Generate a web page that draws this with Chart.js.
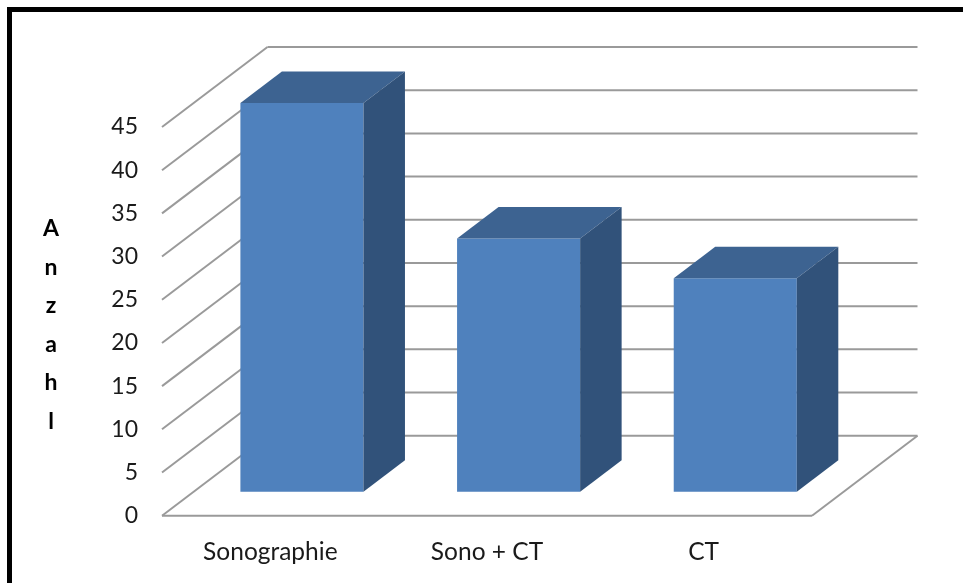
<!DOCTYPE html>
<html>
<head>
<meta charset="utf-8">
<title>Anzahl</title>
<script src="https://cdn.jsdelivr.net/npm/chart.js@4"></script>
<style>
  body { margin: 0; background: #fff; overflow: hidden; }
  #frame { position: absolute; left: 7px; top: 7px; right: 0; bottom: 0; border-left: 5px solid #000; border-top: 5px solid #000; }
  #anzahl { position: absolute; left: 0; top: 0; }
</style>
</head>
<body>
<div id="frame"></div>
<canvas id="anzahl" width="963" height="583"></canvas>
<script>
const categories = ["Sonographie", "Sono + CT", "CT"];
const counts = [45, 29.3, 24.7];
const tickValues = [0, 5, 10, 15, 20, 25, 30, 35, 40, 45];
const axisLetters = ["A", "n", "z", "a", "h", "l"];

// oblique offsets of the fake 3d box
const wallDepth = { x: 105.5, y: -80 };
const barDepth = { x: 41.5, y: -31.5 };
const barShift = { x: 31.6, y: -24 };

const gridColor = "#9a9a9a";
const frontColor = "#4f81bd";
const topColor = "#3d6391";
const sideColor = "#31527a";
const fontName = "Lato, sans-serif";

function poly(ctx, color, pts) {
  ctx.fillStyle = color;
  ctx.beginPath();
  pts.forEach((p, i) => (i ? ctx.lineTo(p[0], p[1]) : ctx.moveTo(p[0], p[1])));
  ctx.closePath();
  ctx.fill();
}

function seg(ctx, x1, y1, x2, y2) {
  ctx.beginPath();
  ctx.moveTo(x1, y1);
  ctx.lineTo(x2, y2);
  ctx.stroke();
}

// floor, side wall and back wall, placed with the y scale
const wallsPlugin = {
  id: "walls",
  beforeDatasetsDraw(chart) {
    const { ctx, chartArea: a, scales } = chart;
    const bx = wallDepth.x, by = wallDepth.y;
    ctx.save();
    ctx.strokeStyle = gridColor;
    ctx.lineWidth = 2;
    tickValues.forEach((v) => {
      const y = scales.y.getPixelForValue(v);
      seg(ctx, a.left, y, a.left + bx, y + by);
      seg(ctx, a.left + bx, y + by, a.right + bx, y + by);
    });
    seg(ctx, a.left, a.bottom, a.right, a.bottom);
    seg(ctx, a.right, a.bottom, a.right + bx, a.bottom + by);
    ctx.restore();
  },
  beforeDatasetDraw(chart) {
    chart.ctx.save();
    chart.ctx.translate(barShift.x, barShift.y);
  },
  afterDatasetDraw(chart, args) {
    const ctx = chart.ctx;
    const dx = barDepth.x, dy = barDepth.y;
    args.meta.data.forEach((bar) => {
      const l = bar.x - bar.width / 2, r = bar.x + bar.width / 2;
      poly(ctx, topColor, [[l, bar.y], [l + dx, bar.y + dy], [r + dx, bar.y + dy], [r, bar.y]]);
      poly(ctx, sideColor, [[r, bar.y], [r + dx, bar.y + dy], [r + dx, bar.base + dy], [r, bar.base]]);
    });
    ctx.restore();
  },
  afterDraw(chart) {
    const ctx = chart.ctx;
    ctx.save();
    ctx.fillStyle = "#000";
    ctx.font = "bold 23px " + fontName;
    ctx.textAlign = "center";
    ctx.textBaseline = "middle";
    axisLetters.forEach((ch, i) => ctx.fillText(ch, 51, 228.5 + i * 38.6));
    ctx.restore();
  },
};

new Chart(document.getElementById("anzahl"), {
  type: "bar",
  data: {
    labels: categories,
    datasets: [
      {
        label: "Anzahl",
        data: counts,
        backgroundColor: frontColor,
        borderWidth: 0,
        barPercentage: 0.568,
        categoryPercentage: 1,
        clip: false,
      },
    ],
  },
  options: {
    responsive: false,
    animation: false,
    devicePixelRatio: 1,
    layout: { padding: { top: 127, right: 151, left: 0, bottom: 0 } },
    plugins: { legend: { display: false }, tooltip: { enabled: false } },
    scales: {
      x: {
        grid: { display: false },
        border: { display: false },
        ticks: { color: "#1a1a1a", padding: 14, maxRotation: 0, font: { family: fontName, size: 24.5 } },
        afterFit: (axis) => { axis.height = 67.3; },
      },
      y: {
        min: 0,
        max: 45,
        grid: { display: false },
        border: { display: false },
        afterBuildTicks: (axis) => { axis.ticks = tickValues.map((v) => ({ value: v })); },
        ticks: { color: "#1a1a1a", padding: 16, font: { family: fontName, size: 23 } },
        afterFit: (axis) => { axis.width = 162; },
      },
    },
  },
  plugins: [wallsPlugin],
});
</script>
</body>
</html>
